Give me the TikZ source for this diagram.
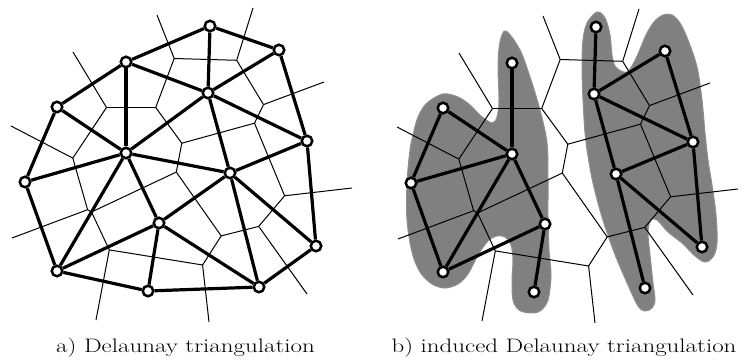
\documentclass[tikz,border=0pt]{standalone}
\usepackage{graphicx}
\newcommand\MakeSites[1]{%
 \node[site] (#1p1) at (126,62) {};
 \node[site] (#1p2) at (210,26) {};
 \node[site] (#1p3) at (279,50) {};
 \node[site] (#1p4) at (57,107) {};
 \node[site] (#1p5) at (208,93) {};
 \node[site] (#1p6) at (126,153) {};
 \node[site] (#1p7) at (25,182) {};
 \node[site] (#1p8) at (230,173) {};
 \node[site] (#1p9) at (307,141) {};
 \node[site] (#1p10) at (159,223) {};
 \node[site] (#1p11) at (316,246) {};
 \node[site] (#1p12) at (57,271) {};
 \node[site] (#1p13) at (148,291) {};
 \node[site] (#1p14) at (259,287) {};}
\newcommand\MakeVoronoi[1]{%
 \coordinate (#1v1) at (174.2,58.5);
 \coordinate (#1v2) at (236.7,60.3);
 \coordinate (#1v3) at (263.5,104.6);
 \coordinate (#1v4) at (106.5,107.5);
 \coordinate (#1v5) at (155.7,107.5);
 \coordinate (#1v6) at (72.8,158.1);
 \coordinate (#1v7) at (181.8,143.2);
 \coordinate (#1v8) at (254.5,123.2);
 \coordinate (#1v9) at (87.6,209.7);
 \coordinate (#1v10) at (176.3,172.1);
 \coordinate (#1v11) at (91.5,212.0);
 \coordinate (#1v12) at (284.6,195.8);
 \coordinate (#1v13) at (221.2,235.9);
 \coordinate (#1v14) at (258.7,226.4);
 \coordinate (#1v15) at (109.3,249.9);
 \coordinate (#1v16) at (202.6,265);
 \coordinate (#1r1) at (157,15);
 \coordinate (#1r2) at (253,8);
 \coordinate (#1r3) at (324,82);
 \coordinate (#1r4) at (352,188);
 \coordinate (#1r5) at (307,294);
 \coordinate (#1r6) at (209,322);
 \coordinate (#1r7) at (96,320);
 \coordinate (#1r8) at (12,238);
 \coordinate (#1r9) at (11,126);
 \coordinate (#1r10) at (73,52);
 \foreach \i/\j in {1/5,1/2,2/3,3/8,4/5,4/6,5/7,7/8,6/9,7/10,9/11,10/11,8/12,10/13,11/15,12/14,13/14,13/16,15/16}
   {\draw[vor] (#1v\i) -- (#1v\j);}
 \foreach \i/\j in {1/1,2/2,3/3,12/4,14/5,16/6,15/7,9/8,6/9,4/10}
   {\draw[vor] (#1v\i) -- (#1r\j);}}
\begin{document}
\begin{tikzpicture}[x=1pt,y=-1pt,
  vor/.style={line width=1pt},
  del/.style={line width=3.2pt},
  site/.style={circle,draw=black,fill=white,line width=2.5pt,inner sep=0pt,minimum size=10.5pt},
  blob/.style={fill=black!50,draw=black!44,line width=1pt},
  captext/.style={anchor=base,inner sep=0pt}]
\useasboundingbox (0,0) rectangle (753,363);
% gray regions (right panel)
\path[blob] plot[smooth cycle,tension=0.55] coordinates {
 (506,31) (520,50) (530,77) (540,110) (547,143) (548,180) (548,217) (549,250) (551,275)
 (548,300) (540,311) (530,313) (519,310) (513,300) (512,280) (513,260) (511,245)
 (505,237) (497,236) (488,241) (478,255) (468,274) (458,284) (445,288) (432,284)
 (420,272) (412,252) (407,220) (407,183) (410,150) (413,135) (418,117) (427,103)
 (443,94) (458,97) (470,105) (481,116) (492,123) (497,117) (499,100) (498,67) (500,42)};
\path[blob] plot[smooth cycle,tension=0.55] coordinates {
 (597,12) (605,18) (610,35) (612,55) (615,66) (621,71) (627,72) (632,66) (638,54)
 (646,35) (654,22) (663,15) (672,15) (680,23) (688,40) (697,67) (702,100) (705,133)
 (708,160) (712,185) (716,215) (717,243) (713,257) (705,262) (695,256) (682,243)
 (668,232) (657,220) (651,220) (648,232) (650,255) (653,283) (655,300) (652,308)
 (645,311) (638,306) (628,285) (614,252) (602,217) (593,183) (587,150) (585,133)
 (583,100) (582,67) (583,40) (587,23)};
% left panel
\MakeVoronoi{a}
\MakeSites{a}
\foreach \i/\j in {1/2,2/3,1/4,1/5,1/6,2/5,3/5,3/9,4/6,4/7,5/6,5/8,5/9,6/7,6/8,6/10,6/12,7/12,8/9,8/10,8/11,8/14,9/11,10/12,10/13,10/14,11/14,12/13,13/14}
  {\draw[del] (ap\i) -- (ap\j);}
% right panel
\begin{scope}[shift={(386,1)}]
\MakeVoronoi{b}
\MakeSites{b}
\end{scope}
\foreach \i/\j in {1/6,4/6,4/7,6/7,6/12,7/12,6/10,10/12,10/13,2/5,3/5,3/9,5/9,5/8,8/9,8/11,8/14,9/11}
  {\draw[del] (bp\i) -- (bp\j);}
% captions
\node[captext] (capa) at (185.5,353) {\scalebox{1.28}[1]{\fontsize{19.5}{22}\selectfont a) Delaunay triangulation}};
\node[captext] (capb) at (564,353) {\scalebox{1.28}[1]{\fontsize{19.5}{22}\selectfont b) induced Delaunay triangulation}};
\end{tikzpicture}
\end{document}
